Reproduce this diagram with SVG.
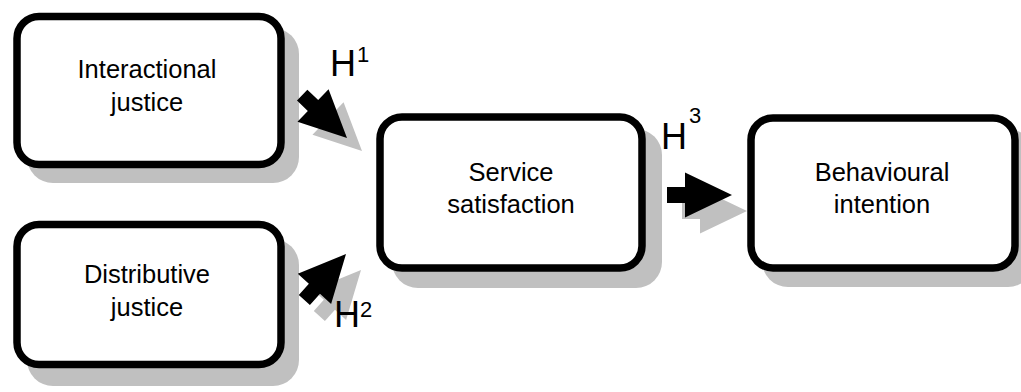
<svg xmlns="http://www.w3.org/2000/svg" width="1021" height="392" viewBox="0 0 1021 392">
  <defs>
    <style>
      .shadow { fill: #c0c0c0; }
      .box { fill: #ffffff; stroke: #000000; stroke-width: 7.5; }
      .lbl { font-family: "Liberation Sans", Arial, sans-serif; font-size: 25.5px; fill: #000; text-anchor: middle; }
      .h { font-family: "Liberation Sans", Arial, sans-serif; font-size: 36px; fill: #000; }
      .sup { font-family: "Liberation Sans", Arial, sans-serif; font-size: 22px; fill: #000; }
      .arrow { fill: #000000; }
      .ashadow { fill: #c0c0c0; }
    </style>
    <polygon id="blk" points="-62,-7.5 -47,-7.5 -47,-22.5 0,0 -47,22.5 -47,7.5 -62,7.5"/>
    <polygon id="blk3" points="-65,-8 -47,-8 -47,-22.5 0,0 -47,22.5 -47,8 -65,8"/>
  </defs>

  <g id="shadows">
    <rect class="shadow" x="27" y="28" width="272" height="155" rx="26"/>
    <rect class="shadow" x="27" y="239" width="272" height="147" rx="26"/>
    <rect class="shadow" x="392" y="129" width="270" height="159" rx="26"/>
    <rect class="shadow" x="762" y="129" width="272" height="158" rx="26"/>
  </g>

  <g id="connectors">
    <use href="#blk" class="ashadow" transform="translate(362,151) rotate(43.7)"/>
    <use href="#blk" class="ashadow" transform="translate(361,270) rotate(-47.8)"/>
    <use href="#blk3" class="ashadow" transform="translate(747,211)"/>
    <use href="#blk" class="arrow" transform="translate(347,138) rotate(43.7)"/>
    <use href="#blk" class="arrow" transform="translate(346,254) rotate(-47.8)"/>
    <use href="#blk3" class="arrow" transform="translate(732,195)"/>
    <g id="H1"><text class="h" x="330" y="76">H</text><text class="sup" x="357" y="62">1</text></g>
    <g id="H2"><text class="h" x="334" y="327">H</text><text class="sup" x="360" y="317">2</text></g>
    <g id="H3"><text class="h" x="661" y="149">H</text><text class="sup" x="689" y="123">3</text></g>
  </g>

  <g id="interactional">
    <rect class="box" x="17" y="16.5" width="264" height="148" rx="22"/>
    <text class="lbl" x="147" y="78">Interactional</text>
    <text class="lbl" x="147" y="111">justice</text>
  </g>

  <g id="distributive">
    <rect class="box" x="17" y="224.5" width="264" height="140" rx="22"/>
    <text class="lbl" x="147" y="283">Distributive</text>
    <text class="lbl" x="147" y="316">justice</text>
  </g>

  <g id="satisfaction">
    <rect class="box" x="380" y="117" width="262" height="151" rx="22"/>
    <text class="lbl" x="511" y="181">Service</text>
    <text class="lbl" x="511" y="213">satisfaction</text>
  </g>

  <g id="intention">
    <rect class="box" x="751" y="118" width="264" height="150" rx="22"/>
    <text class="lbl" x="882" y="181">Behavioural</text>
    <text class="lbl" x="882" y="213">intention</text>
  </g>
</svg>
